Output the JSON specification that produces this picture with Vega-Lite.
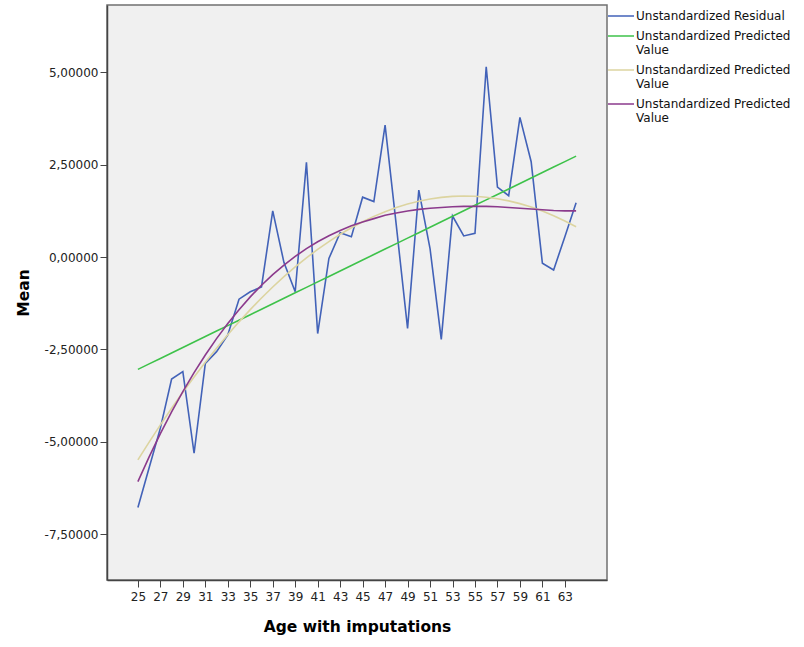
{
  "$schema": "https://vega.github.io/schema/vega-lite/v6.json",
  "width": 500,
  "height": 575,
  "autosize": "none",
  "padding": {"left": 107, "top": 5, "right": 197, "bottom": 67},
  "background": "white",
  "config": {
    "font": "DejaVu Sans",
    "view": {"fill": "#f0f0f0", "stroke": "#707070", "strokeWidth": 1.5}
  },
  "data": {
    "values": [
      {"age": 25, "Residual": -6.78, "Linear": -3.04, "Quadratic": -5.491, "Cubic": -6.08},
      {"age": 26, "Residual": -5.70, "Linear": -2.892, "Quadratic": -5.008, "Cubic": -5.409},
      {"age": 27, "Residual": -4.63, "Linear": -2.744, "Quadratic": -4.542, "Cubic": -4.78},
      {"age": 28, "Residual": -3.30, "Linear": -2.596, "Quadratic": -4.093, "Cubic": -4.191},
      {"age": 29, "Residual": -3.10, "Linear": -2.448, "Quadratic": -3.661, "Cubic": -3.64},
      {"age": 30, "Residual": -5.31, "Linear": -2.30, "Quadratic": -3.246, "Cubic": -3.127},
      {"age": 31, "Residual": -2.88, "Linear": -2.152, "Quadratic": -2.847, "Cubic": -2.65},
      {"age": 32, "Residual": -2.56, "Linear": -2.004, "Quadratic": -2.466, "Cubic": -2.208},
      {"age": 33, "Residual": -2.11, "Linear": -1.856, "Quadratic": -2.101, "Cubic": -1.80},
      {"age": 34, "Residual": -1.14, "Linear": -1.709, "Quadratic": -1.754, "Cubic": -1.424},
      {"age": 35, "Residual": -0.94, "Linear": -1.561, "Quadratic": -1.423, "Cubic": -1.079},
      {"age": 36, "Residual": -0.81, "Linear": -1.413, "Quadratic": -1.109, "Cubic": -0.764},
      {"age": 37, "Residual": 1.25, "Linear": -1.265, "Quadratic": -0.812, "Cubic": -0.477},
      {"age": 38, "Residual": -0.15, "Linear": -1.117, "Quadratic": -0.532, "Cubic": -0.217},
      {"age": 39, "Residual": -0.94, "Linear": -0.969, "Quadratic": -0.269, "Cubic": 0.017},
      {"age": 40, "Residual": 2.56, "Linear": -0.821, "Quadratic": -0.023, "Cubic": 0.226},
      {"age": 41, "Residual": -2.07, "Linear": -0.673, "Quadratic": 0.207, "Cubic": 0.412},
      {"age": 42, "Residual": -0.04, "Linear": -0.525, "Quadratic": 0.419, "Cubic": 0.576},
      {"age": 43, "Residual": 0.66, "Linear": -0.377, "Quadratic": 0.615, "Cubic": 0.72},
      {"age": 44, "Residual": 0.55, "Linear": -0.229, "Quadratic": 0.793, "Cubic": 0.844},
      {"age": 45, "Residual": 1.62, "Linear": -0.081, "Quadratic": 0.955, "Cubic": 0.95},
      {"age": 46, "Residual": 1.50, "Linear": 0.067, "Quadratic": 1.10, "Cubic": 1.039},
      {"age": 47, "Residual": 3.57, "Linear": 0.215, "Quadratic": 1.228, "Cubic": 1.13},
      {"age": 48, "Residual": 0.85, "Linear": 0.363, "Quadratic": 1.339, "Cubic": 1.19},
      {"age": 49, "Residual": -1.93, "Linear": 0.511, "Quadratic": 1.433, "Cubic": 1.245},
      {"age": 50, "Residual": 1.81, "Linear": 0.659, "Quadratic": 1.51, "Cubic": 1.29},
      {"age": 51, "Residual": 0.23, "Linear": 0.807, "Quadratic": 1.57, "Cubic": 1.32},
      {"age": 52, "Residual": -2.23, "Linear": 0.955, "Quadratic": 1.614, "Cubic": 1.34},
      {"age": 53, "Residual": 1.11, "Linear": 1.103, "Quadratic": 1.64, "Cubic": 1.36},
      {"age": 54, "Residual": 0.57, "Linear": 1.251, "Quadratic": 1.65, "Cubic": 1.37},
      {"age": 55, "Residual": 0.64, "Linear": 1.399, "Quadratic": 1.643, "Cubic": 1.37},
      {"age": 56, "Residual": 5.15, "Linear": 1.546, "Quadratic": 1.619, "Cubic": 1.37},
      {"age": 57, "Residual": 1.89, "Linear": 1.694, "Quadratic": 1.577, "Cubic": 1.36},
      {"age": 58, "Residual": 1.66, "Linear": 1.842, "Quadratic": 1.52, "Cubic": 1.34},
      {"age": 59, "Residual": 3.78, "Linear": 1.99, "Quadratic": 1.445, "Cubic": 1.32},
      {"age": 60, "Residual": 2.58, "Linear": 2.138, "Quadratic": 1.353, "Cubic": 1.30},
      {"age": 61, "Residual": -0.17, "Linear": 2.286, "Quadratic": 1.244, "Cubic": 1.28},
      {"age": 62, "Residual": -0.35, "Linear": 2.434, "Quadratic": 1.119, "Cubic": 1.26},
      {"age": 63, "Residual": 0.55, "Linear": 2.582, "Quadratic": 0.976, "Cubic": 1.25},
      {"age": 64, "Residual": 1.47, "Linear": 2.73, "Quadratic": 0.817, "Cubic": 1.25}
    ]
  },
  "transform": [
    {"fold": ["Residual", "Linear", "Quadratic", "Cubic"], "as": ["series", "value"]}
  ],
  "mark": {"type": "line", "strokeWidth": 1.6},
  "encoding": {
    "x": {
      "field": "age",
      "type": "quantitative",
      "scale": {"domain": [22.25, 66.75], "nice": false, "zero": false},
      "axis": {
        "values": [25, 27, 29, 31, 33, 35, 37, 39, 41, 43, 45, 47, 49, 51, 53, 55, 57, 59, 61, 63],
        "title": "Age with imputations",
        "grid": false,
        "tickSize": 7,
        "tickColor": "#444444",
        "domainColor": "#444444",
        "domainWidth": 1.5,
        "labelFontSize": 12,
        "labelColor": "#222222",
        "labelPadding": 4,
        "labelFlush": false,
        "titleFontSize": 15.5,
        "titleFontWeight": "bold",
        "titleColor": "#000000",
        "titlePadding": 17
      }
    },
    "y": {
      "field": "value",
      "type": "quantitative",
      "scale": {"domain": [-8.74, 6.82], "nice": false, "zero": false},
      "axis": {
        "values": [-7.5, -5, -2.5, 0, 2.5, 5],
        "title": "Mean",
        "grid": false,
        "tickSize": 7,
        "tickColor": "#444444",
        "domainColor": "#444444",
        "domainWidth": 1.5,
        "labelFontSize": 12,
        "labelColor": "#222222",
        "labelPadding": 2,
        "labelFlush": false,
        "labelExpr": "replace(replace(format(datum.value, '.5f'), '.', ','), '\u2212', '-')",
        "titleFontSize": 15.5,
        "titleFontWeight": "bold",
        "titleColor": "#000000",
        "titlePadding": 13
      }
    },
    "color": {
      "field": "series",
      "type": "nominal",
      "sort": ["Residual", "Linear", "Quadratic", "Cubic"],
      "scale": {
        "domain": ["Residual", "Linear", "Quadratic", "Cubic"],
        "range": ["#4262B8", "#3EC24A", "#DCD4A0", "#8B3A8C"]
      },
      "legend": {
        "title": null,
        "orient": "none",
        "legendX": 500,
        "legendY": -3,
        "padding": 0,
        "symbolType": "stroke",
        "symbolSize": 676,
        "symbolStrokeWidth": 1.5,
        "labelFontSize": 12,
        "labelColor": "#111111",
        "labelOffset": 1,
        "labelLimit": 300,
        "rowPadding": 0,
        "labelExpr": "datum.label == 'Residual' ? 'Unstandardized Residual' : ['Unstandardized Predicted', 'Value']",
        "encode": {
          "labels": {"update": {"lineHeight": {"value": 13.5}}}
        }
      }
    }
  }
}
